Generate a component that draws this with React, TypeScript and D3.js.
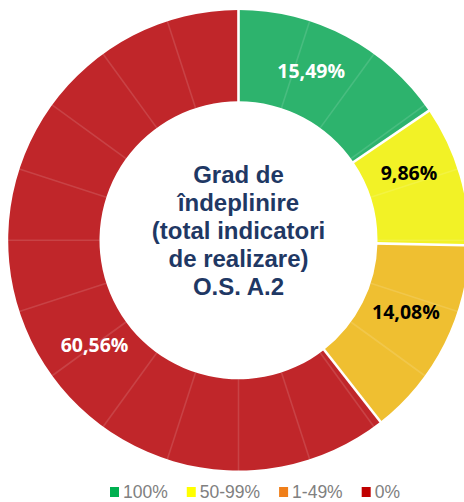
import React, { useEffect, useRef } from "react";
import * as d3 from "d3";

const categories = ["100%", "50-99%", "1-49%", "0%"];
const shares = [15.49, 9.86, 14.08, 60.56];
const valueLabels = ["15,49%", "9,86%", "14,08%", "60,56%"];
const titleLines = ["Grad de", "îndeplinire", "(total indicatori", "de realizare)", "O.S. A.2"];
const gridTicks = d3.range(0, 100, 5);

const sliceColors = ["#2db36d", "#f2f226", "#efbf31", "#c0262a"];
const legendColors = ["#00b050", "#ffff00", "#f07f1a", "#c00000"];
const labelColors = ["#ffffff", "#000000", "#000000", "#ffffff"];
const labelShiftDeg = [-4.7, -5.2, -3.5, -17];
const labelRadius = [184.5, 183.5, 182, 178];

const W = 464;
const H = 502;
const CX = 238.5;
const CY = 240.3;
const R_OUT = 230.3;
const R_IN = 139;

export default function App() {
  const ref = useRef<SVGSVGElement | null>(null);

  useEffect(() => {
    const svg = d3.select(ref.current);
    svg.selectAll("*").remove();

    const g = svg.append("g").attr("transform", `translate(${CX},${CY})`);
    const pie = d3.pie<number>().sort(null).value((d) => d).startAngle(0).endAngle(2 * Math.PI);
    const arcs = pie(shares);
    const arc = d3.arc<d3.PieArcDatum<number>>().innerRadius(R_IN).outerRadius(R_OUT);

    g.selectAll("path.slice")
      .data(arcs)
      .join("path")
      .attr("class", "slice")
      .attr("d", arc as any)
      .attr("fill", (_d, i) => sliceColors[i]);

    // faint 5% division lines
    const pctScale = d3.scaleLinear().domain([0, 100]).range([0, 2 * Math.PI]);
    g.selectAll("line.grid")
      .data(gridTicks)
      .join("line")
      .attr("class", "grid")
      .attr("x1", (d) => d3.pointRadial(pctScale(d), R_IN)[0])
      .attr("y1", (d) => d3.pointRadial(pctScale(d), R_IN)[1])
      .attr("x2", (d) => d3.pointRadial(pctScale(d), R_OUT + 1)[0])
      .attr("y2", (d) => d3.pointRadial(pctScale(d), R_OUT + 1)[1])
      .attr("stroke", "#ffffff")
      .attr("stroke-opacity", 0.13)
      .attr("stroke-width", 1.6);

    // white category separators
    g.selectAll("line.sep")
      .data(arcs)
      .join("line")
      .attr("class", "sep")
      .attr("x1", (d) => d3.pointRadial(d.startAngle, R_IN - 2)[0])
      .attr("y1", (d) => d3.pointRadial(d.startAngle, R_IN - 2)[1])
      .attr("x2", (d) => d3.pointRadial(d.startAngle, R_OUT + 2)[0])
      .attr("y2", (d) => d3.pointRadial(d.startAngle, R_OUT + 2)[1])
      .attr("stroke", "#ffffff")
      .attr("stroke-width", 2.6);

    // value labels
    g.selectAll("text.val")
      .data(arcs)
      .join("text")
      .attr("class", "val")
      .attr("x", (d, i) => d3.pointRadial((d.startAngle + d.endAngle) / 2 + (labelShiftDeg[i] * Math.PI) / 180, labelRadius[i])[0])
      .attr("y", (d, i) => d3.pointRadial((d.startAngle + d.endAngle) / 2 + (labelShiftDeg[i] * Math.PI) / 180, labelRadius[i])[1])
      .attr("dy", "0.36em")
      .attr("text-anchor", "middle")
      .attr("font-family", "'Open Sans', sans-serif")
      .attr("font-weight", 700)
      .attr("font-size", 19.5)
      .attr("fill", (_d, i) => labelColors[i])
      .text((_d, i) => valueLabels[i]);

    // center title
    g.selectAll("text.title")
      .data(titleLines)
      .join("text")
      .attr("class", "title")
      .attr("x", 0)
      .attr("y", (_d, i) => -1 + (i - 2) * 28.1)
      .attr("text-anchor", "middle")
      .attr("font-family", "'Liberation Sans', Arial, sans-serif")
      .attr("font-weight", 700)
      .attr("font-size", 24)
      .attr("fill", "#1f3864")
      .text((d) => d);

    // legend
    const leg = svg.append("g");
    let x = 110;
    categories.forEach((c, i) => {
      leg.append("rect").attr("x", x).attr("y", 487).attr("width", 9).attr("height", 10).attr("fill", legendColors[i]);
      const t = leg
        .append("text")
        .attr("x", x + 13)
        .attr("y", 498)
        .attr("font-family", "'Liberation Sans', Arial, sans-serif")
        .attr("font-size", 17.5)
        .attr("fill", "#808080")
        .text(c);
      const w = (t.node() as SVGTextElement).getComputedTextLength();
      x = x + 13 + w + 19;
    });
  }, []);

  return (
    <svg
      ref={ref}
      width={W}
      height={H}
      style={{ position: "absolute", left: 0, top: 0, background: "#ffffff" }}
    />
  );
}
